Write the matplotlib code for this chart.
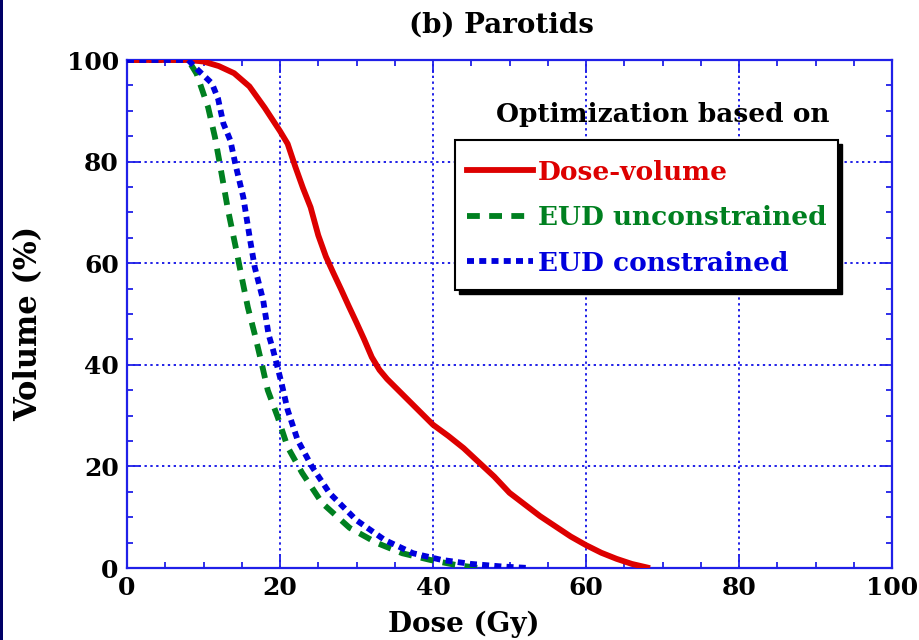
import matplotlib
matplotlib.use("Agg")
from matplotlib import pyplot as plt
from matplotlib.patches import Rectangle

# dose (Gy) / volume (%)
dv_dose = [0, 5, 8, 10, 12, 14, 16, 18, 20, 21, 22, 23, 24, 25, 26, 27, 28, 29, 30,
           31, 32, 33, 34, 36, 38, 40, 42, 44, 46, 48, 50, 52, 54, 56, 58, 60, 62, 64, 66, 68]
dv_vol = [100, 100, 100, 99.7, 98.8, 97.4, 94.8, 90.6, 86, 83.5, 79, 74.8, 71, 65.5, 61.3,
          58, 54.8, 51.5, 48.3, 45, 41.5, 39, 37.2, 34.2, 31.2, 28.2, 26, 23.6, 20.8, 18,
          14.8, 12.5, 10.2, 8.2, 6.2, 4.5, 3, 1.8, 0.8, 0.1]

eud_u_dose = [0, 8, 9.1, 10.6, 11.5, 12.2, 13.2, 14.3, 15.0, 15.8, 16.7, 17.6, 18.4, 19.7,
              21.0, 22.9, 25.5, 29.1, 32.7, 36.0, 39.6, 43, 46]
eud_u_vol = [100, 100, 97.3, 90.7, 84.8, 79.0, 70.5, 62.5, 57.2, 51.3, 46.0, 40.3, 35.0, 29.7,
             23.8, 18.7, 12.8, 7.9, 4.9, 2.9, 1.6, 0.6, 0]

eud_c_dose = [0, 8, 9.3, 11.1, 11.9, 12.6, 13.5, 14.2, 15.2, 16.1, 16.7, 17.8, 18.5, 19.1,
              20.2, 21.0, 22.3, 24.2, 26.5, 30.0, 33.7, 37.4, 41.1, 45, 49, 52.5]
eud_c_vol = [100, 100, 98, 95.4, 92.4, 87.5, 84.2, 79.3, 73, 64.5, 59.2, 52.7, 46, 42.9,
             36.4, 31.1, 25.2, 19.9, 14.7, 9.4, 5.5, 2.9, 1.6, 0.8, 0.3, 0]

series_labels = ['Dose-volume', 'EUD unconstrained', 'EUD constrained']
series_colors = ['#dd0000', '#008020', '#0000dd']

axis_blue = '#2020e8'
serif = ['DejaVu Serif']

plt.rcParams['font.family'] = serif
plt.rcParams['font.weight'] = 'bold'

fig = plt.figure(figsize=(9.19, 6.40), dpi=100)
fig.subplots_adjust(left=127/919, right=892/919, top=1-60/640, bottom=1-568/640)
ax = fig.add_subplot(111)

lw = 4.2
l1, = ax.plot(dv_dose, dv_vol, color=series_colors[0], lw=lw, ls='-',
              solid_joinstyle='round', zorder=5)
l2, = ax.plot(eud_u_dose, eud_u_vol, color=series_colors[1], lw=lw,
              dashes=(2.2, 1.6), zorder=4)
l3, = ax.plot(eud_c_dose, eud_c_vol, color=series_colors[2], lw=lw,
              dashes=(1.2, 0.9), zorder=6)

ax.set_xlim(0, 100)
ax.set_ylim(0, 100)
ax.set_xticks(range(0, 101, 20))
ax.set_yticks(range(0, 101, 20))
ax.set_xticks(range(0, 101, 5), minor=True)
ax.set_yticks(range(0, 101, 5), minor=True)
ax.grid(True, which='major', color=axis_blue, ls=(0, (1.2, 1.8)), lw=1.4)

for s in ax.spines.values():
    s.set_color(axis_blue)
    s.set_linewidth(1.6)
ax.tick_params(which='both', direction='in', top=True, right=True, color=axis_blue, width=1.3)
ax.tick_params(which='major', length=9, labelsize=18, pad=6)
ax.tick_params(which='minor', length=4.5)
for lab in ax.get_xticklabels() + ax.get_yticklabels():
    lab.set_fontweight('bold')

ax.set_xlabel('Dose (Gy)', fontsize=20, fontweight='bold')
ax.xaxis.set_label_coords(0.44, -0.083)
ax.set_ylabel('Volume (%)', fontsize=22, fontweight='bold')
ax.yaxis.set_label_coords(-0.108, 0.482)
ax.set_title('(b) Parotids', fontsize=20, fontweight='bold', pad=20, x=0.489)

ax.text(0.918, 0.892, 'Optimization based on', transform=ax.transAxes, ha='right', va='center',
        fontsize=19, fontweight='bold', color='black')

# legend box with a hard black drop shadow
box_x, box_y, box_w, box_h = 0.4288, 0.5472, 0.5006, 0.2953
ax.add_patch(Rectangle((box_x + 0.005, box_y - 0.008), box_w, box_h, transform=ax.transAxes,
                       facecolor='black', edgecolor='black', lw=1, zorder=9))
ax.add_patch(Rectangle((box_x, box_y), box_w, box_h, transform=ax.transAxes,
                       facecolor='white', edgecolor='black', lw=1.5, zorder=9.5))

leg = ax.legend([l1, l2, l3], series_labels, loc='upper left', bbox_to_anchor=(0.4444, 0.804),
                fontsize=19, frameon=False, handlelength=2.5, handletextpad=0.18,
                labelspacing=0.78, borderpad=0, borderaxespad=0)
for txt, c in zip(leg.get_texts(), series_colors):
    txt.set_color(c)
    txt.set_fontweight('bold')
leg.set_zorder(10)

fig.add_artist(Rectangle((0, 0), 3/919, 1, transform=fig.transFigure, color='#000066', lw=0))

fig.savefig('out.png', dpi=100)
